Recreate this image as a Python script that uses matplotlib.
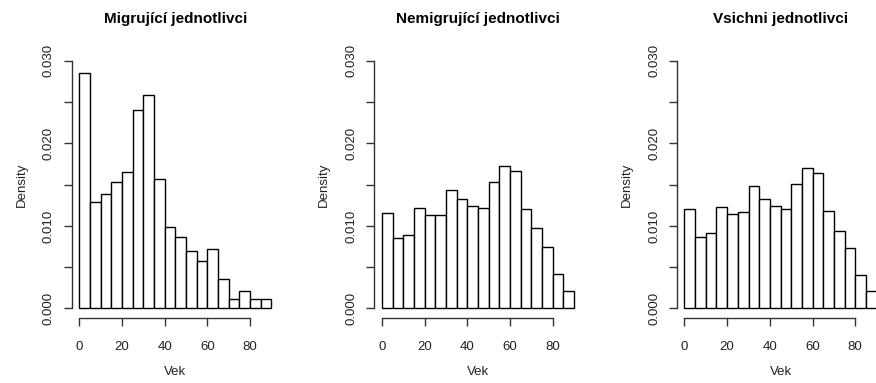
import numpy as np
import matplotlib
matplotlib.use("Agg")
import matplotlib.pyplot as plt

plt.rcParams['font.family'] = ['Liberation Sans', 'DejaVu Sans']

# hranice tříd (věk) a hustoty
breaks = np.arange(0, 95, 5)

migr = [0.0285, 0.0129, 0.0138, 0.0153, 0.0165, 0.0240, 0.0258, 0.0157, 0.0099,
        0.0087, 0.0070, 0.0058, 0.0072, 0.0036, 0.0012, 0.0021, 0.0012, 0.0012]
nemigr = [0.0116, 0.0085, 0.0089, 0.0122, 0.0113, 0.0113, 0.0144, 0.0132, 0.0124,
          0.0122, 0.0153, 0.0173, 0.0167, 0.0120, 0.0097, 0.0075, 0.0042, 0.0021]
vsichni = [0.0121, 0.0086, 0.0091, 0.0123, 0.0114, 0.0117, 0.0148, 0.0132, 0.0124,
           0.0121, 0.0151, 0.0170, 0.0164, 0.0118, 0.0094, 0.0073, 0.0041, 0.0021]

titles = ['Migrující jednotlivci', 'Nemigrující jednotlivci', 'Vsichni jednotlivci']
data = [migr, nemigr, vsichni]

fig = plt.figure(figsize=(8.76, 3.83), dpi=100)
lefts = [0.0817, 0.4272, 0.7726]

for left, vals, title in zip(lefts, data, titles):
    ax = fig.add_axes([left, 0.1687, 0.2368, 0.6987])
    ax.bar(breaks[:-1], vals, width=5, align='edge', facecolor='white',
           edgecolor='black', linewidth=1.0, clip_on=False)
    ax.set_xlim(-3.6, 93.6)
    ax.set_ylim(-0.0012, 0.0312)

    # osy ve stylu R
    ax.spines['top'].set_visible(False)
    ax.spines['right'].set_visible(False)
    ax.spines['left'].set_bounds(0, 0.03)
    ax.spines['bottom'].set_bounds(0, 80)
    for s in ('left', 'bottom'):
        ax.spines[s].set_color('#333333')
        ax.spines[s].set_linewidth(1.0)

    ax.set_xticks([0, 20, 40, 60, 80])
    ax.set_yticks(np.arange(0, 0.031, 0.005))
    ax.set_yticklabels(['0.000', '', '0.010', '', '0.020', '', '0.030'],
                       rotation=90, va='center')
    ax.tick_params(axis='both', length=6, width=1.0, color='#333333',
                   labelsize=9.5, labelcolor='#222222')
    ax.tick_params(axis='x', pad=10)
    ax.tick_params(axis='y', pad=6)

    ax.set_title(title, fontsize=11, fontweight='bold', pad=20)
    ax.set_xlabel('Vek', fontsize=9.5, labelpad=10, color='#222222')
    ax.set_ylabel('Density', fontsize=9.5, labelpad=11, color='#222222')

plt.savefig('out.png', dpi=100)
plt.close()
